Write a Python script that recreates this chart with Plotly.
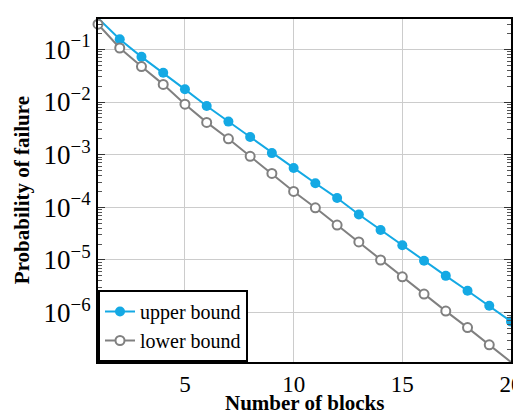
import plotly.graph_objects as go

blocks = list(range(1, 21))
upper_bound = [0.39, 0.155, 0.072, 0.036, 0.0174, 0.0084, 0.00424, 0.00216, 0.00107, 5.6e-4,
               2.87e-4, 1.5e-4, 7.3e-5, 3.7e-5, 1.9e-5, 9.7e-6, 5.0e-6, 2.6e-6, 1.35e-6, 6.8e-7]
lower_bound = [0.30, 0.106, 0.047, 0.0216, 0.0091, 0.0041, 0.0020, 9.3e-4, 4.4e-4, 2.0e-4,
               9.8e-5, 4.6e-5, 2.2e-5, 1.0e-5, 4.8e-6, 2.25e-6, 1.07e-6, 5.2e-7, 2.45e-7, 1.15e-7]
x_ticks = [5, 10, 15, 20]
y_exponents = [-1, -2, -3, -4, -5, -6]
y_ticks = [10.0 ** e for e in y_exponents]
y_ticktext = ["10<sup>\u2212%d</sup>" % (-e) for e in y_exponents]
y_minor = [m * 10.0 ** e for e in range(-7, 0) for m in range(2, 10)]
x_title = "Number of blocks"
y_title = "Probability of failure"

FONT = "Liberation Serif"
BLUE = "#14A9E4"
GRAY = "#808080"

fig = go.Figure()
fig.add_trace(go.Scatter(
    x=blocks, y=upper_bound, name="upper bound", mode="lines+markers",
    line=dict(color=BLUE, width=2),
    marker=dict(symbol="circle", size=10, color=BLUE, line=dict(width=0)),
    cliponaxis=False,
))
fig.add_trace(go.Scatter(
    x=blocks, y=lower_bound, name="lower bound", mode="lines+markers",
    line=dict(color=GRAY, width=2),
    marker=dict(symbol="circle", size=9, color="white", line=dict(color=GRAY, width=2)),
    cliponaxis=False,
))

# the page body adds an 8px offset, so the figure is sized to fill the rest of the window
fig.update_layout(
    width=513, height=406,
    margin=dict(l=90, r=10, t=11, b=52, autoexpand=False),
    paper_bgcolor="white", plot_bgcolor="white",
    font=dict(family=FONT, color="black", size=21),
    showlegend=True,
    legend=dict(
        x=0, y=0, xanchor="left", yanchor="bottom",
        bgcolor="white", bordercolor="black", borderwidth=2,
        font=dict(family=FONT, size=20, color="black"),
        tracegroupgap=0,
    ),
    annotations=[
        dict(text="<b>%s</b>" % x_title, xref="paper", yref="paper", x=0.5, y=-0.1195,
             xanchor="center", yanchor="middle", showarrow=False,
             font=dict(family=FONT, size=21, color="black")),
        dict(text="<b>%s</b>" % y_title, xref="paper", yref="paper", x=-0.184, y=0.501,
             xanchor="center", yanchor="middle", showarrow=False, textangle=-90,
             font=dict(family=FONT, size=21, color="black")),
    ],
)
fig.update_xaxes(
    range=[1, 20], tickmode="array", tickvals=x_ticks, ticks="", automargin=False,
    ticklabeloverflow="allow",
    showgrid=True, gridcolor="#CCCCCC", gridwidth=1,
    showline=True, linecolor="black", linewidth=2, mirror=True,
    zeroline=False,
    tickfont=dict(family=FONT, size=23),
)
fig.update_yaxes(
    type="log", range=[-6.937, -0.424], tickmode="array", automargin=False,
    tickvals=y_ticks, ticktext=y_ticktext,
    ticks="inside", ticklen=7, tickcolor="#333333",
    minor=dict(tickmode="array", ticks="inside", ticklen=4, tickvals=y_minor,
               tickcolor="#555555", tickwidth=1, showgrid=False),
    showgrid=True, gridcolor="#CCCCCC", gridwidth=1,
    showline=True, linecolor="black", linewidth=2, mirror="ticks",
    zeroline=False,
    tickfont=dict(family=FONT, size=27),
)

fig.write_html("out.html")
